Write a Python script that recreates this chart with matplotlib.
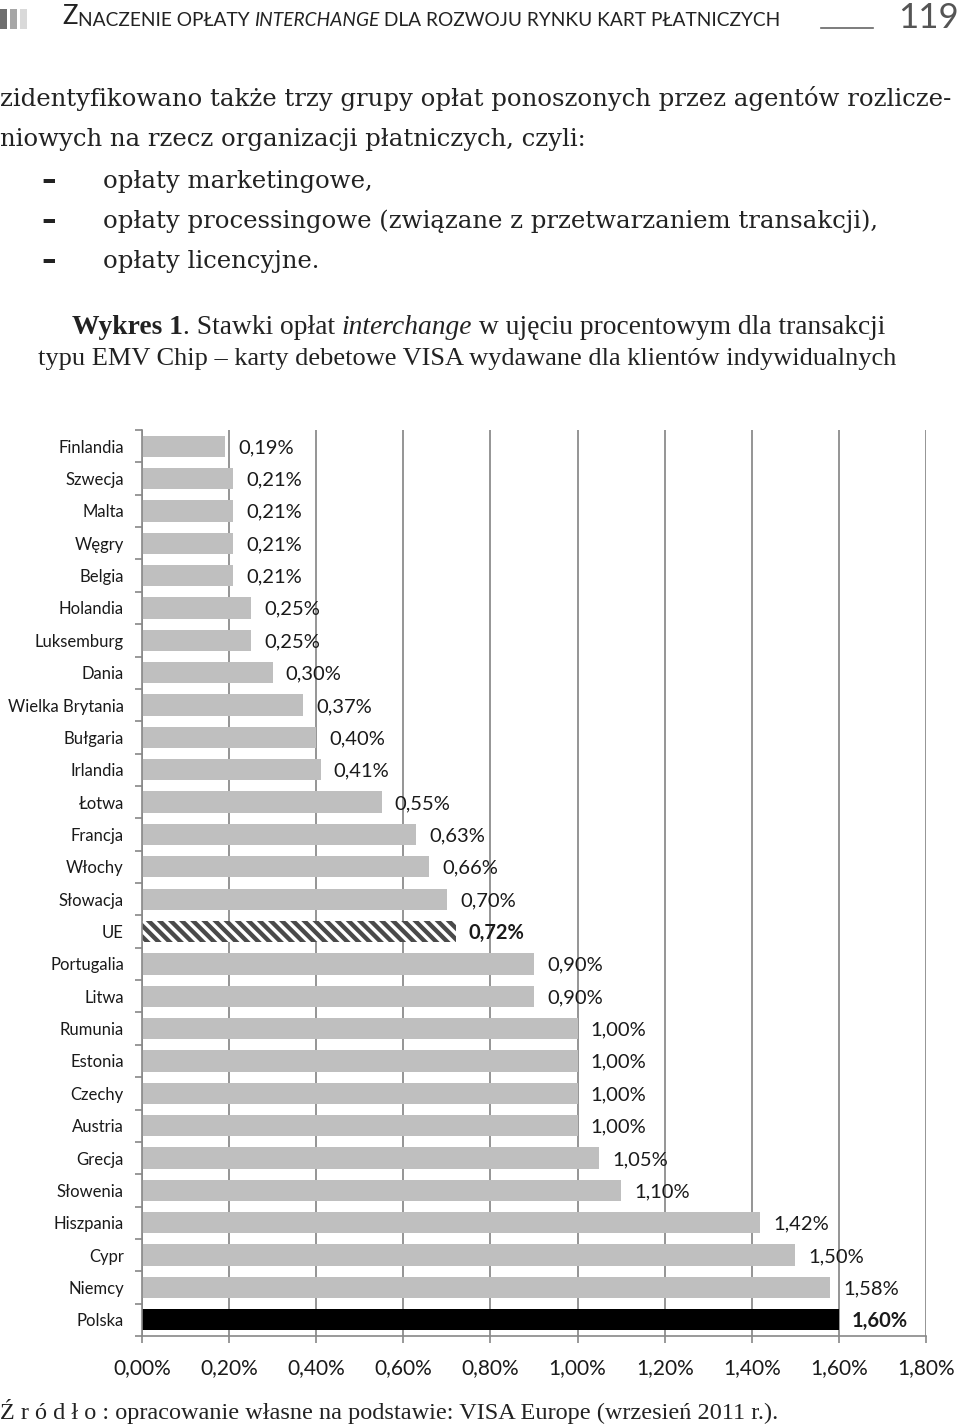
import numpy as np
import matplotlib
matplotlib.use("Agg")
import matplotlib.pyplot as plt
from matplotlib.patches import Rectangle
from matplotlib.lines import Line2D
from matplotlib.text import Annotation

# data
countries = ["Finlandia", "Szwecja", "Malta", "Węgry", "Belgia", "Holandia", "Luksemburg",
             "Dania", "Wielka Brytania", "Bułgaria", "Irlandia", "Łotwa", "Francja", "Włochy",
             "Słowacja", "UE", "Portugalia", "Litwa", "Rumunia", "Estonia", "Czechy", "Austria",
             "Grecja", "Słowenia", "Hiszpania", "Cypr", "Niemcy", "Polska"]
rates = [0.19, 0.21, 0.21, 0.21, 0.21, 0.25, 0.25, 0.30, 0.37, 0.40, 0.41, 0.55, 0.63, 0.66,
         0.70, 0.72, 0.90, 0.90, 1.00, 1.00, 1.00, 1.00, 1.05, 1.10, 1.42, 1.50, 1.58, 1.60]
x_ticks = [0.0, 0.2, 0.4, 0.6, 0.8, 1.0, 1.2, 1.4, 1.6, 1.8]

body_lines = [
    "zidentyfikowano także trzy grupy opłat ponoszonych przez agentów rozlicze-",
    "niowych na rzecz organizacji płatniczych, czyli:",
]
list_items = [
    "opłaty marketingowe,",
    "opłaty processingowe (związane z przetwarzaniem transakcji),",
    "opłaty licencyjne.",
]

W, H = 960, 1426
SANS = ["Lato", "DejaVu Sans"]
SERIF = ["DejaVu Serif"]
TITLE = ["Liberation Serif", "DejaVu Serif"]

plt.rcParams["hatch.linewidth"] = 2.5
plt.rcParams["hatch.color"] = "white"

fig = plt.figure(figsize=(W / 100, H / 100), dpi=100)


def fx(x):
    return x / W


def fy(y):
    return 1 - y / H


def chain(first, pieces, **kw):
    # place text pieces one after another on the same line
    anchor = first
    for piece, extra in pieces:
        anchor = fig.add_artist(Annotation(piece, xy=(1, 0), xycoords=anchor, **kw, **extra))
    return anchor


# --- page header ---
for x0, c in [(0, "#6e6e6e"), (10, "#a6a6a6"), (20, "#d9d9d9")]:
    fig.add_artist(Rectangle((fx(x0), fy(29)), 7 / W, 20 / H, transform=fig.transFigure,
                             color=c, lw=0))
hdr = dict(family=SANS, color="#222222", va="bottom")
z = fig.text(fx(62), fy(29), "Z", fontsize=18.5, **hdr)
chain(z, [("NACZENIE OPŁATY ", {}), ("INTERCHANGE", {"style": "italic"}),
          (" DLA ROZWOJU RYNKU KART PŁATNICZYCH", {})], fontsize=13.8, **hdr)

fig.add_artist(Line2D([fx(821), fx(873)], [fy(28), fy(28)], transform=fig.transFigure,
                      color="#666666", lw=1.2))
fig.text(fx(959), fy(28), "119", fontsize=25, family=["Liberation Sans Narrow", "Lato"],
         color="#555555", ha="right", va="baseline")

# --- body text ---
body = dict(family=SERIF, fontsize=17.6, color="#222222", va="baseline")
for i, line in enumerate(body_lines):
    fig.text(fx(0), fy(106 + 40 * i), line, **body)
for i, item in enumerate(list_items):
    fig.text(fx(41), fy(189 + 40 * i), "–", family=SERIF, fontsize=21, weight="bold",
             color="#222222", va="baseline")
    fig.text(fx(103), fy(188 + 40 * i), item, **body)

# --- chart title ---
tt = dict(family=TITLE, fontsize=19.8, color="#222222", va="bottom")
w1 = fig.text(fx(72), fy(340), "Wykres 1", weight="bold", **tt)
chain(w1, [(". Stawki opłat ", {}), ("interchange", {"style": "italic"}),
           (" w ujęciu procentowym dla transakcji", {})], **tt)
fig.text(fx(467), fy(370), "typu EMV Chip – karty debetowe VISA wydawane dla klientów indywidualnych",
         ha="center", **dict(tt, fontsize=19))

# --- chart ---
ax = fig.add_axes([fx(142), fy(1336), (926 - 142) / W, (1336 - 430) / H])
y = np.arange(len(countries))
colors = ["black" if c == "Polska" else "#bfbfbf" for c in countries]
bars = ax.barh(y, rates, height=0.66, color=colors, lw=0, zorder=2)
ue = countries.index("UE")
bars[ue].set_facecolor("#4a4a4a")
bars[ue].set_hatch("\\\\\\")
bars[ue].set_edgecolor("white")

for i, (c, v) in enumerate(zip(countries, rates)):
    bold = c in ("UE", "Polska")
    ax.annotate(f"{v:.2f}%".replace(".", ","), (v, i), xytext=(9.5, -1),
                textcoords="offset points", va="center", ha="left",
                fontsize=14.5, family=SANS, weight="bold" if bold else "normal",
                color="#1a1a1a", zorder=3)

ax.set_xlim(0, 1.8)
ax.set_ylim(len(countries) - 0.5, -0.5)
ax.set_xticks(x_ticks)
ax.set_xticklabels([f"{v:.2f}%".replace(".", ",") for v in x_ticks],
                   fontsize=15, family=SANS, color="#1a1a1a")
ax.set_yticks(y)
ax.set_yticklabels(countries, fontsize=12, family=SANS, color="#1a1a1a")
ax.set_yticks(np.arange(len(countries) + 1) - 0.5, minor=True)
ax.tick_params(axis="y", which="major", length=0, pad=13)
ax.tick_params(axis="y", which="minor", length=5, width=1.2, color="#888888")
ax.tick_params(axis="x", length=5, width=1.2, color="#888888", pad=11)
ax.xaxis.grid(True, color="#8c8c8c", lw=1.3, zorder=0)
ax.set_axisbelow(True)
for s in ("top", "right"):
    ax.spines[s].set_visible(False)
for s in ("left", "bottom"):
    ax.spines[s].set_color("#888888")
    ax.spines[s].set_linewidth(1.2)

# --- source ---
fig.text(fx(0), fy(1419),
         "Ź r ó d ł o : opracowanie własne na podstawie: VISA Europe (wrzesień 2011 r.).",
         family=TITLE, fontsize=17.5, color="#222222", va="baseline")

fig.savefig("out.png", dpi=100)
